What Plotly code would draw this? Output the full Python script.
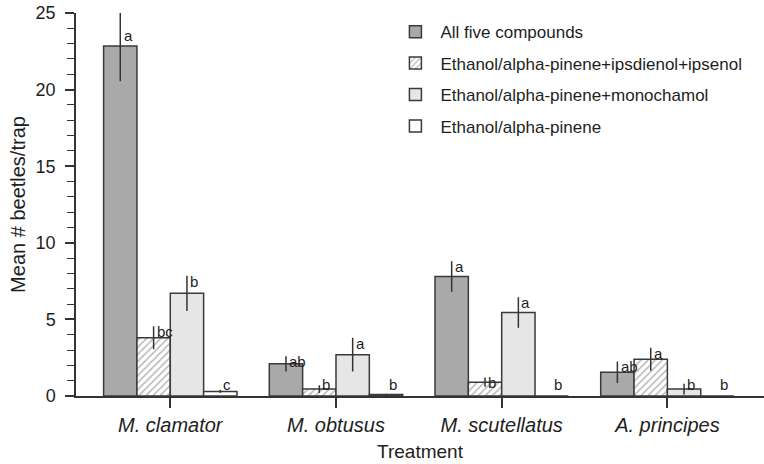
import plotly.graph_objects as go

categories = ["M. clamator", "M. obtusus", "M. scutellatus", "A. principes"]
series_names = [
    "All five compounds",
    "Ethanol/alpha-pinene+ipsdienol+ipsenol",
    "Ethanol/alpha-pinene+monochamol",
    "Ethanol/alpha-pinene",
]
all_five = [22.85, 2.1, 7.8, 1.55]
all_five_se = [2.3, 0.5, 1.0, 0.7]
ipsdienol = [3.8, 0.45, 0.9, 2.4]
ipsdienol_se = [0.75, 0.25, 0.3, 0.75]
monochamol = [6.7, 2.7, 5.45, 0.45]
monochamol_se = [1.15, 1.1, 1.0, 0.35]
ethanol = [0.3, 0.1, 0.0, 0.0]
ethanol_se = [0.1, 0.05, 0.0, 0.0]
letters = [
    ["a", "ab", "a", "ab"],
    ["bc", "b", "b", "a"],
    ["b", "a", "a", "b"],
    ["c", "b", "b", "b"],
]

values = [all_five, ipsdienol, monochamol, ethanol]
errors = [all_five_se, ipsdienol_se, monochamol_se, ethanol_se]

fills = ["#a9a9a9", "white", "#e6e6e6", "white"]
edge = "#3a3a3a"
FONT = "Arial, Liberation Sans, sans-serif"
TXT = "#1e1e1e"

fig = go.Figure()
for i, name in enumerate(series_names):
    marker = dict(color=fills[i], line=dict(color=edge, width=1.5))
    if i == 1:
        marker["pattern"] = dict(shape="/", fgcolor="#707070", bgcolor="white",
                                 size=5, solidity=0.3)
    fig.add_trace(go.Bar(
        name=name, x=list(range(len(categories))), y=values[i],
        marker=marker, legendgroup=f"g{i}",
        error_y=dict(type="data", array=errors[i], visible=True,
                     color="#333333", thickness=1.5, width=0),
    ))

# significance letters
n = len(series_names)
bw = 0.8 / n
for i in range(n):
    for j in range(len(categories)):
        top = values[i][j] + errors[i][j]
        yv = min(max(top - 0.35, 0.75), 23.5)
        xc = j - 0.4 + bw * (i + 0.5)
        fig.add_annotation(x=xc, y=yv, text=letters[i][j], showarrow=False,
                           xanchor="left", yanchor="middle", xshift=1,
                           font=dict(family=FONT, size=15, color=TXT))

fig.update_layout(
    width=764, height=464,
    margin=dict(l=76, r=0, t=13, b=68),
    paper_bgcolor="white", plot_bgcolor="white",
    barmode="group", bargap=0.195, bargroupgap=0,
    font=dict(family=FONT, color=TXT),
    showlegend=True,
    legend=dict(x=0.457, y=0.997, xanchor="left", yanchor="top",
                font=dict(family=FONT, size=17, color=TXT),
                tracegroupgap=6.3, itemwidth=40, bgcolor="rgba(0,0,0,0)"),
)
fig.update_xaxes(
    tickmode="array", tickvals=list(range(len(categories))),
    ticktext=[f"<i>{c}</i>" for c in categories],
    range=[-0.569, 3.583], automargin=False,
    showline=True, linecolor="#333", linewidth=1.5,
    ticks="outside", ticklen=10, tickcolor="#333", tickwidth=1.5,
    tickfont=dict(family=FONT, size=20, color=TXT),
    title=dict(text="Treatment", font=dict(family=FONT, size=19, color=TXT),
               standoff=10),
    showgrid=False, zeroline=False,
)
fig.update_yaxes(
    range=[0, 25], tickvals=[0, 5, 10, 15, 20, 25], automargin=False,
    showline=True, linecolor="#333", linewidth=1.5,
    ticks="outside", ticklen=9, tickcolor="#333", tickwidth=1.5,
    minor=dict(dtick=1, ticks="outside", ticklen=7, tickcolor="#333", tickwidth=1.2),
    tickfont=dict(family=FONT, size=18, color=TXT),
    ticklabelstandoff=6,
    title=dict(text="Mean # beetles/trap", font=dict(family=FONT, size=20, color=TXT),
               standoff=5),
    showgrid=False, zeroline=False,
)

fig.write_html("out.html", config={"displayModeBar": False},
               post_script="document.body.style.margin='0';document.body.style.padding='0';")
